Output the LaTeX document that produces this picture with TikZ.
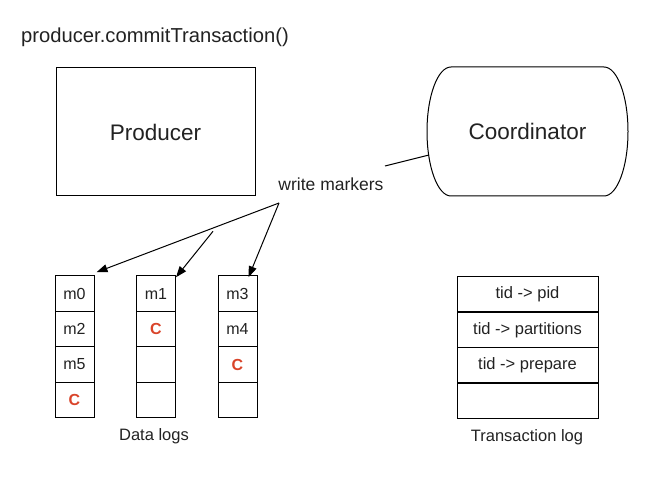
\documentclass[tikz,border=0pt]{standalone}
\usepackage{fontspec}
\setmainfont{Liberation Sans}
\usetikzlibrary{arrows.meta}
\definecolor{txt}{HTML}{222222}
\definecolor{cred}{HTML}{D9442A}
\tikzset{
  cell/.style={draw=black, line width=1pt, minimum width=39pt, minimum height=35.5pt, inner sep=0pt, text=txt, font=\fontsize{16.5}{19}\selectfont},
  tcell/.style={cell, minimum width=141pt},
  ctext/.style={text=txt, font=\fontsize{16}{19}\selectfont},
  cmark/.style={text=cred, font=\fontsize{16}{19}\selectfont\bfseries},
  lbl/.style={text=txt, inner sep=0pt},
  conn/.style={line width=1pt, draw=black},
  arr/.style={conn, -{Triangle[length=11pt,width=8pt]}}
}
\begin{document}
\begin{tikzpicture}[x=1pt,y=-1pt]
\useasboundingbox (0,0) rectangle (670,481);
% title
\node[lbl, font=\fontsize{20.2}{23}\selectfont] (title) at (155,37) {producer.commitTransaction()};
% producer
\node[draw=black, line width=1pt, minimum width=199pt, minimum height=128pt, text=txt, font=\fontsize{22.5}{26}\selectfont] (prod) at (155.5,132) {Producer};
% coordinator
\node[minimum width=201pt, minimum height=129pt, text=txt, font=\fontsize{22.5}{26}\selectfont] (coord) at (527.5,131.5) {Coordinator};
\draw[line width=1pt] (451,67) -- (604,67) arc[start angle=90, end angle=-90, x radius=24, y radius=-64.5]
  -- (451,196) arc[start angle=270, end angle=90, x radius=24, y radius=-64.5] -- cycle;
% write markers
\node[lbl, font=\fontsize{17.5}{20}\selectfont] (wm) at (331,184) {write markers};
\coordinate (cl) at (429,155);
\coordinate (ce) at (385,166);
\draw[conn] (cl) -- (ce);
% data logs
\foreach \n/\x in {a/74.5, b/156, c/237.5}{
  \node[cell] (\n1) at (\x,293.5) {};
  \node[cell] (\n2) at (\x,329) {};
  \node[cell] (\n3) at (\x,364.5) {};
  \node[cell] (\n4) at (\x,400) {};
}
\node[ctext] (m0) at (a1) {m0};
\node[ctext] (m2) at (a2) {m2};
\node[ctext] (m5) at (a3) {m5};
\node[cmark] (ca) at (a4) {C};
\node[ctext] (m1) at (b1) {m1};
\node[cmark] (cb) at (b2) {C};
\node[ctext] (m3) at (c1) {m3};
\node[ctext] (m4) at (c2) {m4};
\node[cmark] (cc) at (c3) {C};
\node[lbl, font=\fontsize{16.5}{19}\selectfont] (dl) at (154,436) {Data logs};
% transaction log
\node[tcell] (t1) at (527.5,294) {tid -> pid};
\node[tcell] (t2) at (527.5,330) {tid -> partitions};
\node[tcell] (t3) at (527.5,365.5) {tid -> prepare};
\node[tcell] (t4) at (527.5,400.5) {};
\node[lbl, font=\fontsize{16.5}{19}\selectfont] (tl) at (527,437) {Transaction log};
% arrows
\coordinate (ws) at (279,203);
\coordinate (br) at (213,231.3);
\draw[arr] (ws) -- ([xshift=2pt,yshift=3pt]a1.north east);
\draw[arr] (br) -- ([yshift=-2pt]b1.north east);
\draw[arr] (ws) -- ([xshift=-9pt,yshift=-2pt]c1.north east);
\end{tikzpicture}
\end{document}
